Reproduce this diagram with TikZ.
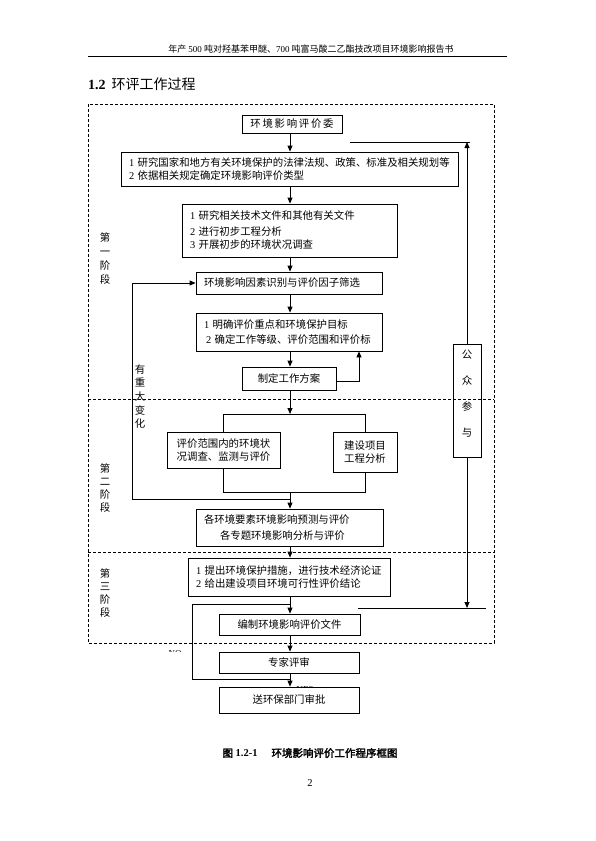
\documentclass[tikz,border=0pt]{standalone}
\usepackage{fontspec}
\setmainfont{Liberation Serif}
\newfontfamily\cjk{Noto Sans CJK SC}[AutoFakeBold=2.5]
\usetikzlibrary{arrows.meta,calc}
\newcommand\D[1]{{\rmfamily #1}}
\begin{document}
\begin{tikzpicture}[x=1pt,y=-1pt,
  box/.style={draw, line width=0.8pt, inner sep=0pt, font=\cjk\fontsize{10.4}{13}\selectfont, align=center},
  lbox/.style={box, align=left, inner xsep=8pt},
  arr/.style={-{Triangle[length=6pt,width=5pt]}, line width=0.8pt},
  ln/.style={line width=0.8pt},
  dsh/.style={dash pattern=on 3pt off 2pt, line width=0.6pt},
  vlab/.style={font=\cjk\fontsize{10.4}{13.7}\selectfont, align=center, inner sep=0pt}]
\useasboundingbox (0,0) rectangle (595,841);
\fill[white] (0,0) rectangle (595,841);

% header and title
\node[font=\cjk\fontsize{9}{9}\selectfont, inner sep=0pt] (hdr) at (311,49) {年产 \D{500} 吨对羟基苯甲醚、\D{700} 吨富马酸二乙酯技改项目环境影响报告书};
\draw[line width=0.7pt] (88,56) -- (507,56);
\node[anchor=west, inner sep=0pt, font=\fontsize{14}{14}\selectfont] (ttl) at (88,84) {\textbf{1.2}\hspace{6pt}{\cjk 环评工作过程}};

% dashed frame
\draw[dsh] (88,104) rectangle (494,643);
\draw[dsh] (88,399) -- (494,399);
\draw[dsh] (88,552) -- (494,552);

% boxes
\node[box, minimum width=100pt, minimum height=18pt] (b1) at (292,124) {环\,境\,影\,响\,评\,价\,委};
\node[lbox, text width=321pt, minimum height=34pt] (b2) at (289.5,169) {\D{1}~研究国家和地方有关环境保护的法律法规、政策、标准及相关规划等\\ \D{2}~依据相关规定确定环境影响评价类型};
\node[lbox, text width=199pt, minimum height=53pt] (b3) at (289.5,230.5) {\D{1}~研究相关技术文件和其他有关文件\\[3pt] \D{2}~进行初步工程分析\\ \D{3}~开展初步的环境状况调查};
\node[lbox, text width=170pt, minimum height=22pt] (b4) at (289,283) {环境影响因素识别与评价因子筛选};
\node[lbox, text width=170pt, minimum height=38pt] (b5) at (289,332) {\D{1}~明确评价重点和环境保护目标\\[2pt] \hspace*{2pt}\D{2}~确定工作等级、评价范围和评价标};
\node[box, minimum width=94pt, minimum height=23pt] (b6) at (289,378.5) {制定工作方案};
\node[box, minimum width=113pt, minimum height=36pt] (b7) at (223.5,450) {评价范围内的环境状\\况调查、监测与评价};
\node[box, minimum width=64pt, minimum height=40pt] (b8) at (365,452) {建设项目\\工程分析};
\node[lbox, text width=171pt, minimum height=37pt] (b9) at (289.5,527.5) {各环境要素环境影响预测与评价\\[3pt] \hspace*{16pt}各专题环境影响分析与评价};
\node[lbox, text width=186pt, minimum height=38pt] (b10) at (289,577) {\D{1}~提出环境保护措施，进行技术经济论证\\ \D{2}~给出建设项目环境可行性评价结论};
\node[box, minimum width=141pt, minimum height=21pt] (b11) at (289.5,624.5) {编制环境影响评价文件};
\node[box, minimum width=140pt, minimum height=21pt] (b12) at (289,662.5) {专家评审};
\node[box, minimum width=140pt, minimum height=26pt] (b13) at (289,700) {送环保部门审批};
\node[box, minimum width=28pt, minimum height=113pt] (pub) at (467,400.5) {};
\node[vlab, font=\cjk\fontsize{10.4}{26}\selectfont] (pubt) at (467,394) {公\\众\\参\\与};

% side labels
\node[vlab, font=\cjk\fontsize{10.4}{14}\selectfont] (st1) at (105,259) {第\\一\\阶\\段};
\node[vlab, font=\cjk\fontsize{10.4}{13.3}\selectfont] (st2) at (105,488) {第\\二\\阶\\段};
\node[vlab, font=\cjk\fontsize{10.4}{13.3}\selectfont] (st3) at (105,593) {第\\三\\阶\\段};
\node[vlab] (chg) at (140,396.5) {有\\重\\大\\变\\化};

% connectors
\coordinate (colx) at (290,0);
\draw[arr] (b1.south -| colx) -- (b2.north -| colx);
\draw[arr] (b2.south -| colx) -- (b3.north -| colx);
\draw[arr] (b3.south -| colx) -- (b4.north -| colx);
\draw[arr] (b4.south -| colx) -- (b5.north -| colx);
\draw[arr] (b5.south -| colx) -- (b6.north -| colx);
\coordinate (rb) at (359,0);
\draw[arr] ($(b6.east)+(0,2.5)$) -| (rb |- b5.south);
\coordinate (split) at (290,414);
\draw[arr] (b6.south -| colx) -- (split);
\draw[ln] (b7.north) -- (b7.north |- split) -- (b8.north |- split) -- (b8.north);
\coordinate (join) at (290,492);
\draw[ln] (b7.south) -- (b7.south |- join) -- (b8.south |- join) -- (b8.south);
\draw[arr] (join) -- (b9.north -| colx);
\coordinate (fbj) at (290,499);
\coordinate (fbx) at (132,0);
\draw[arr] (fbj) -| (fbx |- b4.west) -- (b4.west);
\draw[arr] (b9.south -| colx) -- (b10.north -| colx);
\draw[arr] (b10.south -| colx) -- (b11.north -| colx);
\draw[arr] (b11.south -| colx) -- (b12.north -| colx);
\draw[arr] (b12.south -| colx) -- (b13.north -| colx);
\coordinate (noA) at (290,604);
\coordinate (noB) at (192,679);
\draw[ln] (noA) -| (noB) -- (noB -| colx);
% public participation
\coordinate (t1) at (350,142);
\coordinate (t2) at (470,142);
\draw[ln] (t1) -- (t2);
\draw[arr] (pub.north) -- (pub.north |- t1);
\coordinate (u1) at (358,608);
\coordinate (u2) at (486,608);
\draw[ln] (u1) -- (u2);
\draw[arr] (pub.south) -- (pub.south |- u1);

% clipped NO / YES
\begin{scope}
\clip (160,648) rectangle (190,651.5);
\node[anchor=base, font=\fontsize{9}{9}\selectfont, inner sep=0pt] (no) at (175,656) {NO};
\end{scope}
\begin{scope}
\clip (295,684) rectangle (318,687.5);
\node[anchor=base, font=\fontsize{9}{9}\selectfont, inner sep=0pt] (yes) at (305,692) {YES};
\end{scope}

% caption and page number
\node[font=\bfseries\fontsize{10.5}{10.5}\selectfont, inner sep=0pt] (cap) at (310,753) {{\cjk 图} 1.2-1\hspace{14pt}{\cjk 环境影响评价工作程序框图}};
\node[font=\fontsize{10.5}{10.5}\selectfont, inner sep=0pt] (pg) at (310,783) {2};
\end{tikzpicture}
\end{document}
